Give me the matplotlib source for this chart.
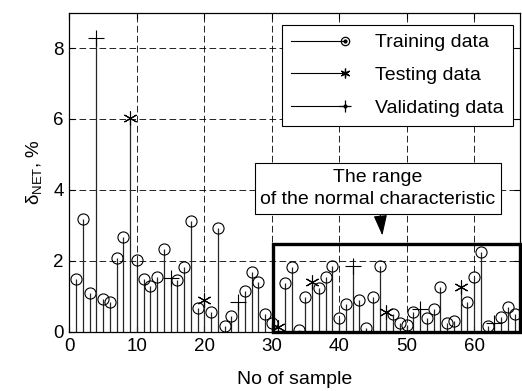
import numpy as np
import matplotlib
matplotlib.use('Agg')
from matplotlib import pyplot as plt
from matplotlib.lines import Line2D
from matplotlib.patches import Rectangle
from matplotlib.legend_handler import HandlerBase

plt.rcParams['font.family'] = ['Liberation Sans', 'DejaVu Sans']
plt.rcParams['mathtext.fontset'] = 'custom'
plt.rcParams['mathtext.rm'] = 'Liberation Sans'

# training samples
train_x = [1, 2, 3, 5, 6, 7, 8, 10, 11, 12, 13, 14, 16, 17, 18, 19, 21, 22, 23, 24,
           26, 27, 28, 29, 30, 32, 33, 34, 35, 37, 38, 39, 40, 41, 43, 44, 45, 46,
           48, 49, 50, 51, 53, 54, 55, 56, 57, 59, 60, 61, 62, 64, 65, 66]
train_y = [1.50, 3.18, 1.09, 0.94, 0.83, 2.07, 2.67, 2.03, 1.50, 1.30, 1.56, 2.35,
           1.46, 1.82, 3.13, 0.67, 0.57, 2.93, 0.18, 0.46, 1.16, 1.69, 1.42, 0.51,
           0.26, 1.37, 1.82, 0.06, 0.98, 1.25, 1.56, 1.87, 0.39, 0.78, 0.90, 0.12,
           0.98, 1.87, 0.50, 0.24, 0.20, 0.57, 0.39, 0.64, 1.26, 0.24, 0.32, 0.83,
           1.56, 2.26, 0.18, 0.41, 0.71, 0.50]
# testing samples
test_x = [9, 20, 31, 36, 47, 58]
test_y = [6.02, 0.90, 0.15, 1.42, 0.55, 1.26]
# validating samples
valid_x = [4, 15, 25, 42, 52, 63]
valid_y = [8.27, 1.53, 0.83, 1.87, 0.64, 0.24]

labels = ['Training data', 'Testing data', 'Validating data']

asterisk = (6, 2, 0)

fig = plt.figure(figsize=(5.22, 3.91), dpi=100)
ax = fig.add_axes([0.133, 0.151, 0.863, 0.817])

def draw_stem(x, y, marker, ms):
    st = ax.stem(x, y, linefmt='k-', markerfmt='ko', basefmt=' ')
    st.stemlines.set_linewidth(0.9)
    st.stemlines.set_color('0.15')
    st.markerline.set_marker(marker)
    st.markerline.set_markersize(ms)
    st.markerline.set_markerfacecolor('none')
    st.markerline.set_markeredgecolor('k')
    st.markerline.set_markeredgewidth(0.8)
    return st

draw_stem(train_x, train_y, 'o', 8)
draw_stem(test_x, test_y, asterisk, 10)
draw_stem(valid_x, valid_y, '+', 11)

ax.set_xlim(0, 66.8)
ax.set_ylim(0, 9)
ax.set_xticks(np.arange(0, 61, 10))
ax.set_yticks(np.arange(0, 9, 2))
ax.tick_params(direction='in', top=True, right=True, labelsize=13.5, length=4, width=0.8, pad=4)
ax.grid(True, color='k', linestyle=(0, (8, 4)), linewidth=0.6)
for s in ax.spines.values():
    s.set_linewidth(0.9)

ax.set_xlabel('No of sample', fontsize=14, labelpad=12)
ax.set_ylabel('δ$_{\\mathrm{NET}}$, %', fontsize=13.5, labelpad=6)

# range of normal characteristic
ax.add_patch(Rectangle((30.2, 0), 66.8 - 30.2, 2.47, fill=False, ec='k', lw=2.4,
                       clip_on=False, zorder=5))
ax.annotate('The range\nof the normal characteristic', xy=(46.4, 2.72), xytext=(45.7, 4.04),
            ha='center', va='center', multialignment='center', fontsize=14, zorder=6,
            linespacing=1.45,
            bbox=dict(boxstyle='square,pad=0.28', fc='w', ec='k', lw=0.8),
            arrowprops=dict(arrowstyle='-|>,head_length=0.9,head_width=0.3', color='k', lw=0.8,
                            shrinkA=0, shrinkB=0))


class StemHandler(HandlerBase):
    def __init__(self, marker, ms):
        super().__init__()
        self.marker = marker
        self.ms = ms

    def create_artists(self, legend, orig_handle, xdescent, ydescent, width, height, fontsize, trans):
        y = height / 2 - ydescent
        x1 = width - xdescent
        line = Line2D([-xdescent, x1], [y, y], color='k', lw=0.8)
        mk = Line2D([x1], [y], marker=self.marker, ms=self.ms, mfc='none', mec='k', mew=0.9, ls='none')
        dot = Line2D([x1], [y], marker='.', ms=4, color='k', ls='none')
        for a in (line, mk, dot):
            a.set_transform(trans)
        return [line, mk, dot]


h1 = Line2D([], [], label=labels[0])
h2 = Line2D([], [], label=labels[1])
h3 = Line2D([], [], label=labels[2])
leg = ax.legend(handles=[h1, h2, h3], loc='upper right', bbox_to_anchor=(0.984, 0.961),
                handler_map={h1: StemHandler('o', 6), h2: StemHandler(asterisk, 7), h3: StemHandler('+', 8)},
                fontsize=14, handlelength=2.8, handletextpad=1.55, labelspacing=0.78,
                borderpad=0.45, borderaxespad=0, fancybox=False, framealpha=1, edgecolor='k')
leg.get_frame().set_linewidth(0.8)
leg.set_zorder(7)

plt.savefig('out.png', dpi=100)
